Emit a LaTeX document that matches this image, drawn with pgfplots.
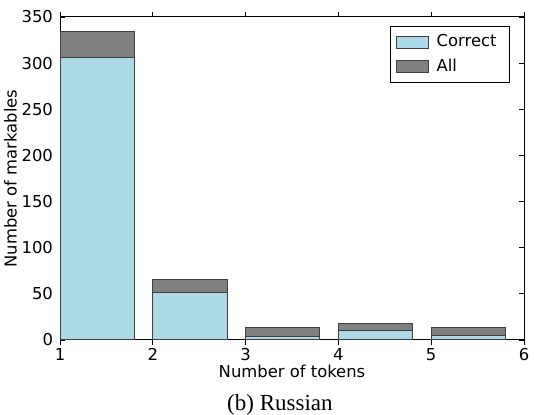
\documentclass[border=0pt]{standalone}
\usepackage{fontspec}
\setmainfont{Liberation Serif}
\newfontfamily\dejavu{DejaVu Sans}
\usepackage{pgfplots}
\pgfplotsset{compat=1.18}
\definecolor{cblue}{HTML}{ADD8E6}
\definecolor{cgray}{HTML}{808080}
\begin{document}
\begin{tikzpicture}
\begin{axis}[
  scale only axis,
  width=232pt, height=161.5pt,
  xmin=1, xmax=6, ymin=0, ymax=350,
  xtick={1,2,3,4,5,6}, ytick={0,50,100,150,200,250,300,350},
  tick align=inside, tick pos=both,
  major tick length=2.5pt,
  clip=false,
  axis line style={line width=0.5pt},
  every tick/.style={line width=0.4pt, black},
  ticklabel style={font=\fontsize{8.2}{9}\dejavu},
  /pgf/number format/assume math mode=true,
  xticklabel style={yshift=2pt},
  label style={font=\fontsize{8.2}{9}\dejavu},
  xlabel={Number of tokens},
  ylabel={Number of markables},
  xlabel style={yshift=4.5pt},
  ylabel style={yshift=-4.5pt},
  ybar, bar width=0.8, bar shift=0.4,
  reverse legend,
  legend style={at={(0.970,0.972)}, anchor=north east, draw=black, line width=0.5pt,
    font=\fontsize{8.2}{9}\dejavu, row sep=0.5pt, inner xsep=2.5pt, inner ysep=2pt},
  legend cell align=left,
  legend image code/.code={\draw[#1] (0pt,-3pt) rectangle (16pt,3pt);},
  legend style={nodes={inner xsep=4pt}},
]
\addplot[fill=cgray, draw=black!75, line width=0.5pt] coordinates {(1,334) (2,66) (3,14) (4,18) (5,14)};
\addlegendentry{All}
\addplot[fill=cblue, draw=black!75, line width=0.5pt] coordinates {(1,306) (2,52) (3,4) (4,10.5) (5,5)};
\addlegendentry{Correct}
\node[font=\fontsize{11.5}{13}\selectfont] at (rel axis cs:0.474,-0.202) {(b) Russian};
\end{axis}
\pgfresetboundingbox
\path (-30pt,-37.5pt) rectangle (237pt,170pt);
\end{tikzpicture}
\end{document}
